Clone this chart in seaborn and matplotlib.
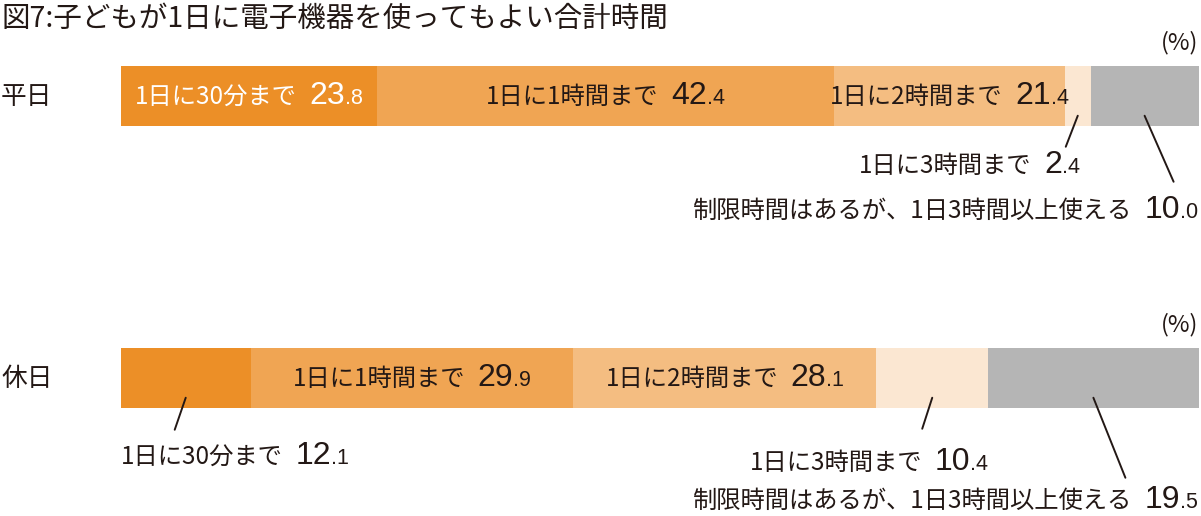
import numpy as np
import pandas as pd
import seaborn as sns
import matplotlib.pyplot as plt
from matplotlib.offsetbox import TextArea, HPacker, AnnotationBbox

sns.set_style('white')
JP = ['Noto Sans CJK JP', 'DejaVu Sans']
NUM = ['Liberation Sans', 'Noto Sans CJK JP']
plt.rcParams['font.family'] = JP

# data
title = '図7:子どもが1日に電子機器を使ってもよい合計時間'
days = ['平日', '休日']
segments = ['1日に30分まで', '1日に1時間まで', '1日に2時間まで', '1日に3時間まで',
            '制限時間はあるが、1日3時間以上使える']
weekday = [23.8, 42.4, 21.4, 2.4, 10.0]
holiday = [12.1, 29.9, 28.1, 10.4, 19.5]

colors = ['#EC8F27', '#F0A553', '#F4BD81', '#FBE7D2', '#B5B5B5']
ink = '#231815'

W, H = 1201, 516
BAR_H = 60 / 282

rows = []
for day, vals in zip(days, [weekday, holiday]):
    cum = np.cumsum(vals)
    for i, (v, c) in enumerate(zip(vals, cum)):
        rows.append({'day': day, 'seg': i, 'val': v, 'cum': c, 'mid': c - v / 2})
df = pd.DataFrame(rows)

fig = plt.figure(figsize=(W / 100, H / 100), dpi=100)
ax = fig.add_axes([120.5 / W, 0, 1078 / W, 1])

# stacked bars: draw cumulative totals from the longest down
for i in reversed(range(len(segments))):
    sub = df[df.seg == i]
    sns.barplot(data=sub, x='cum', y='day', order=days, orient='h', color=colors[i],
                saturation=1, width=BAR_H, linewidth=0, errorbar=None, ax=ax)

ax.set_xlim(0, 100)
ax.set_ylim(1 + (H - 378) / 282, -96 / 282)
ax.axis('off')


def fp(x, y):
    return (x / W, 1 - y / H)


def label_box(name, v, color):
    whole, dec = f'{v:.1f}'.split('.')
    jp = TextArea(name, textprops=dict(fontsize=17.5, color=color, family=JP))
    n1 = TextArea(whole, textprops=dict(fontsize=23, color=color, family=NUM))
    n2 = TextArea('.' + dec, textprops=dict(fontsize=15.5, color=color, family=NUM))
    nums = HPacker(children=[n1, n2], sep=0, pad=0, align='baseline')
    return HPacker(children=[jp, nums], sep=9, pad=0, align='baseline')


def put(box, xy, coords, align):
    ab = AnnotationBbox(box, xy, xycoords=coords, box_alignment=align,
                        frameon=False, pad=0, annotation_clip=False)
    ax.add_artist(ab)


# labels inside the bars
inside = [(0, 0, 'white'), (0, 1, ink), (0, 2, ink), (1, 1, ink), (1, 2, ink)]
for r, s, col in inside:
    rec = df[(df.day == days[r]) & (df.seg == s)].iloc[0]
    put(label_box(segments[s], rec.val, col), (rec.mid, r), 'data', (0.5, 0.5))

# labels outside, with leader lines: (row, seg, line offset px, label pos px, align)
outside = [
    (0, 3, (-12, -31), (1080, 165), (1, 0.5)),
    (0, 4, (29, -66), (1198, 210), (1, 0.5)),
    (1, 0, (-11, -32), (121, 456), (0, 0.5)),
    (1, 3, (-10, -31), (988, 462), (1, 0.5)),
    (1, 4, (32, -80), (1198, 500), (1, 0.5)),
]
for r, s, off, pos, al in outside:
    rec = df[(df.day == days[r]) & (df.seg == s)].iloc[0]
    ax.annotate('', xy=(rec.mid, r + 0.07), xycoords='data', xytext=off,
                textcoords='offset pixels', annotation_clip=False,
                arrowprops=dict(arrowstyle='-', color=ink, lw=1.4, shrinkA=0, shrinkB=0))
    put(label_box(segments[s], rec.val, ink), fp(*pos), 'figure fraction', al)

fig.text(*fp(1, 19), title, fontsize=20.5, color=ink, va='center', ha='left')
fig.text(*fp(1, 97), days[0], fontsize=18.5, color=ink, va='center', ha='left')
fig.text(*fp(1, 379), days[1], fontsize=18.5, color=ink, va='center', ha='left')
for y in [43, 325]:
    fig.text(*fp(1198, y), '(%)', fontsize=17, color=ink, va='center', ha='right')

plt.savefig('out.png', dpi=100)
